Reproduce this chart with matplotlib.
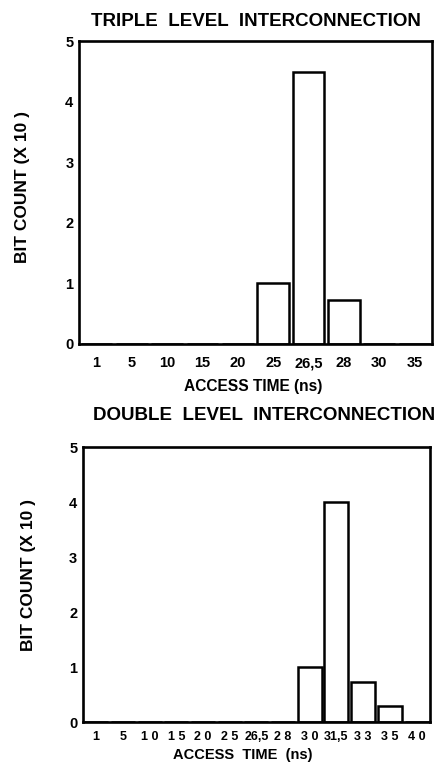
import matplotlib
matplotlib.use("Agg")
import matplotlib.pyplot as plt

plt.rcParams['font.family'] = ['Liberation Sans', 'DejaVu Sans']
plt.rcParams['font.weight'] = 'bold'

# Data
triple_labels = ["1", "5", "10", "15", "20", "25", "26,5", "28", "30", "35"]
triple_values = [0, 0, 0, 0, 0, 1.0, 4.5, 0.72, 0, 0]

double_labels = ["1", "5", "1 0", "1 5", "2 0", "2 5", "26,5", "2 8", "3 0", "31,5", "3 3", "3 5", "4 0"]
double_values = [0, 0, 0, 0, 0, 0, 0, 0, 1.0, 4.0, 0.72, 0.3, 0]

yticks = [0, 1, 2, 3, 4, 5]

fig = plt.figure(figsize=(4.36, 7.66), dpi=100)

def draw(ax, labels, values, xpad, xfs):
    n = len(labels)
    x = list(range(n))
    ax.bar(x, values, width=0.9, facecolor='white', edgecolor='black', linewidth=1.8)
    ax.set_xlim(-0.5, n - 0.5)
    ax.set_ylim(0, 5)
    ax.set_xticks(x)
    ax.set_xticklabels(labels, fontsize=xfs, fontweight='bold')
    ax.set_yticks(yticks)
    ax.set_yticklabels([str(v) for v in yticks], fontsize=10.5, fontweight='bold')
    ax.tick_params(axis='x', length=0, pad=xpad)
    ax.tick_params(axis='y', length=0, pad=4)
    for s in ax.spines.values():
        s.set_linewidth(1.9)

ax1 = fig.add_axes([0.181, 0.551, 0.810, 0.395])
draw(ax1, triple_labels, triple_values, 9, 10.5)
ax2 = fig.add_axes([0.190, 0.0574, 0.796, 0.359])
draw(ax2, double_labels, double_values, 6.5, 9)

fig.text(256/436, 1 - 21/766, "TRIPLE  LEVEL  INTERCONNECTION", ha='center', va='center',
         fontsize=13.5, fontweight='bold')
fig.text(264/436, 1 - 415/766, "DOUBLE  LEVEL  INTERCONNECTION", ha='center', va='center',
         fontsize=13.5, fontweight='bold')

fig.text(22/436, 1 - 187/766, "BIT COUNT (X 10 )", rotation=90, ha='center', va='center',
         fontsize=12.5, fontweight='bold')
fig.text(28/436, 1 - 575/766, "BIT COUNT (X 10 )", rotation=90, ha='center', va='center',
         fontsize=12.5, fontweight='bold')

fig.text(253/436, 1 - 387/766, "ACCESS TIME (ns)", ha='center', va='center',
         fontsize=11.2, fontweight='bold')
fig.text(243/436, 1 - 755/766, "ACCESS  TIME  (ns)", ha='center', va='center',
         fontsize=10.5, fontweight='bold')

fig.savefig("out.png", dpi=100, facecolor='white')
